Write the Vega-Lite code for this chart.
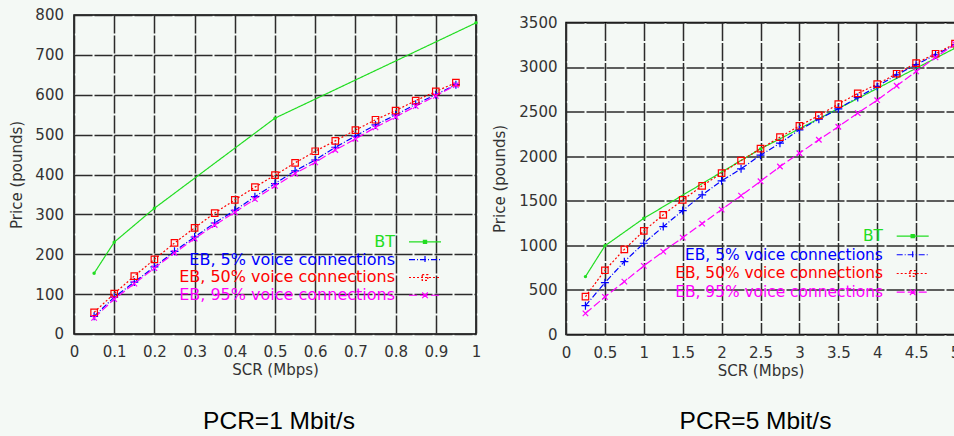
{
  "$schema": "https://vega.github.io/schema/vega-lite/v6.json",
  "padding": {"left": 9, "top": 6.5, "right": 0, "bottom": 0},
  "background": "#f4f9f5",
  "spacing": 10,
  "center": true,
  "resolve": {"scale": {"x": "independent", "y": "independent", "color": "independent", "strokeDash": "independent"}, "legend": {"color": "independent", "strokeDash": "independent"}},
  "datasets": {
    "left": [
      {"scr": 0.05, "price": 152, "series": "BT"},
      {"scr": 0.1, "price": 230, "series": "BT"},
      {"scr": 0.2, "price": 315, "series": "BT"},
      {"scr": 0.5, "price": 541, "series": "BT"},
      {"scr": 1.0, "price": 780, "series": "BT"},
      {"scr": 0.05, "price": 44, "series": "EB, 5% voice connections"},
      {"scr": 0.1, "price": 92, "series": "EB, 5% voice connections"},
      {"scr": 0.15, "price": 130, "series": "EB, 5% voice connections"},
      {"scr": 0.2, "price": 168, "series": "EB, 5% voice connections"},
      {"scr": 0.25, "price": 207, "series": "EB, 5% voice connections"},
      {"scr": 0.3, "price": 243, "series": "EB, 5% voice connections"},
      {"scr": 0.35, "price": 278, "series": "EB, 5% voice connections"},
      {"scr": 0.4, "price": 310, "series": "EB, 5% voice connections"},
      {"scr": 0.45, "price": 344, "series": "EB, 5% voice connections"},
      {"scr": 0.5, "price": 377, "series": "EB, 5% voice connections"},
      {"scr": 0.55, "price": 409, "series": "EB, 5% voice connections"},
      {"scr": 0.6, "price": 436, "series": "EB, 5% voice connections"},
      {"scr": 0.65, "price": 468, "series": "EB, 5% voice connections"},
      {"scr": 0.7, "price": 496, "series": "EB, 5% voice connections"},
      {"scr": 0.75, "price": 524, "series": "EB, 5% voice connections"},
      {"scr": 0.8, "price": 549, "series": "EB, 5% voice connections"},
      {"scr": 0.85, "price": 576, "series": "EB, 5% voice connections"},
      {"scr": 0.9, "price": 600, "series": "EB, 5% voice connections"},
      {"scr": 0.95, "price": 625, "series": "EB, 5% voice connections"},
      {"scr": 0.05, "price": 54, "series": "EB, 50% voice connections"},
      {"scr": 0.1, "price": 101, "series": "EB, 50% voice connections"},
      {"scr": 0.15, "price": 145, "series": "EB, 50% voice connections"},
      {"scr": 0.2, "price": 187, "series": "EB, 50% voice connections"},
      {"scr": 0.25, "price": 228, "series": "EB, 50% voice connections"},
      {"scr": 0.3, "price": 266, "series": "EB, 50% voice connections"},
      {"scr": 0.35, "price": 303, "series": "EB, 50% voice connections"},
      {"scr": 0.4, "price": 336, "series": "EB, 50% voice connections"},
      {"scr": 0.45, "price": 368, "series": "EB, 50% voice connections"},
      {"scr": 0.5, "price": 398, "series": "EB, 50% voice connections"},
      {"scr": 0.55, "price": 429, "series": "EB, 50% voice connections"},
      {"scr": 0.6, "price": 458, "series": "EB, 50% voice connections"},
      {"scr": 0.65, "price": 484, "series": "EB, 50% voice connections"},
      {"scr": 0.7, "price": 511, "series": "EB, 50% voice connections"},
      {"scr": 0.75, "price": 537, "series": "EB, 50% voice connections"},
      {"scr": 0.8, "price": 560, "series": "EB, 50% voice connections"},
      {"scr": 0.85, "price": 585, "series": "EB, 50% voice connections"},
      {"scr": 0.9, "price": 608, "series": "EB, 50% voice connections"},
      {"scr": 0.95, "price": 630, "series": "EB, 50% voice connections"},
      {"scr": 0.05, "price": 40, "series": "EB, 95% voice connections"},
      {"scr": 0.1, "price": 87, "series": "EB, 95% voice connections"},
      {"scr": 0.15, "price": 126, "series": "EB, 95% voice connections"},
      {"scr": 0.2, "price": 165, "series": "EB, 95% voice connections"},
      {"scr": 0.25, "price": 203, "series": "EB, 95% voice connections"},
      {"scr": 0.3, "price": 239, "series": "EB, 95% voice connections"},
      {"scr": 0.35, "price": 273, "series": "EB, 95% voice connections"},
      {"scr": 0.4, "price": 305, "series": "EB, 95% voice connections"},
      {"scr": 0.45, "price": 338, "series": "EB, 95% voice connections"},
      {"scr": 0.5, "price": 371, "series": "EB, 95% voice connections"},
      {"scr": 0.55, "price": 402, "series": "EB, 95% voice connections"},
      {"scr": 0.6, "price": 430, "series": "EB, 95% voice connections"},
      {"scr": 0.65, "price": 461, "series": "EB, 95% voice connections"},
      {"scr": 0.7, "price": 489, "series": "EB, 95% voice connections"},
      {"scr": 0.75, "price": 518, "series": "EB, 95% voice connections"},
      {"scr": 0.8, "price": 544, "series": "EB, 95% voice connections"},
      {"scr": 0.85, "price": 571, "series": "EB, 95% voice connections"},
      {"scr": 0.9, "price": 597, "series": "EB, 95% voice connections"},
      {"scr": 0.95, "price": 624, "series": "EB, 95% voice connections"}
    ],
    "right": [
      {"scr": 0.25, "price": 648, "series": "BT"},
      {"scr": 0.5, "price": 993, "series": "BT"},
      {"scr": 1.0, "price": 1302, "series": "BT"},
      {"scr": 2.5, "price": 2081, "series": "BT"},
      {"scr": 5.0, "price": 3211, "series": "BT"},
      {"scr": 0.25, "price": 322, "series": "EB, 5% voice connections"},
      {"scr": 0.5, "price": 580, "series": "EB, 5% voice connections"},
      {"scr": 0.75, "price": 816, "series": "EB, 5% voice connections"},
      {"scr": 1.0, "price": 1022, "series": "EB, 5% voice connections"},
      {"scr": 1.25, "price": 1209, "series": "EB, 5% voice connections"},
      {"scr": 1.5, "price": 1389, "series": "EB, 5% voice connections"},
      {"scr": 1.75, "price": 1565, "series": "EB, 5% voice connections"},
      {"scr": 2.0, "price": 1722, "series": "EB, 5% voice connections"},
      {"scr": 2.25, "price": 1857, "series": "EB, 5% voice connections"},
      {"scr": 2.5, "price": 2010, "series": "EB, 5% voice connections"},
      {"scr": 2.75, "price": 2145, "series": "EB, 5% voice connections"},
      {"scr": 3.0, "price": 2295, "series": "EB, 5% voice connections"},
      {"scr": 3.25, "price": 2414, "series": "EB, 5% voice connections"},
      {"scr": 3.5, "price": 2530, "series": "EB, 5% voice connections"},
      {"scr": 3.75, "price": 2658, "series": "EB, 5% voice connections"},
      {"scr": 4.0, "price": 2781, "series": "EB, 5% voice connections"},
      {"scr": 4.25, "price": 2912, "series": "EB, 5% voice connections"},
      {"scr": 4.5, "price": 3025, "series": "EB, 5% voice connections"},
      {"scr": 4.75, "price": 3137, "series": "EB, 5% voice connections"},
      {"scr": 5.0, "price": 3249, "series": "EB, 5% voice connections"},
      {"scr": 0.25, "price": 423, "series": "EB, 50% voice connections"},
      {"scr": 0.5, "price": 719, "series": "EB, 50% voice connections"},
      {"scr": 0.75, "price": 954, "series": "EB, 50% voice connections"},
      {"scr": 1.0, "price": 1161, "series": "EB, 50% voice connections"},
      {"scr": 1.25, "price": 1341, "series": "EB, 50% voice connections"},
      {"scr": 1.5, "price": 1509, "series": "EB, 50% voice connections"},
      {"scr": 1.75, "price": 1666, "series": "EB, 50% voice connections"},
      {"scr": 2.0, "price": 1808, "series": "EB, 50% voice connections"},
      {"scr": 2.25, "price": 1950, "series": "EB, 50% voice connections"},
      {"scr": 2.5, "price": 2083, "series": "EB, 50% voice connections"},
      {"scr": 2.75, "price": 2212, "series": "EB, 50% voice connections"},
      {"scr": 3.0, "price": 2340, "series": "EB, 50% voice connections"},
      {"scr": 3.25, "price": 2456, "series": "EB, 50% voice connections"},
      {"scr": 3.5, "price": 2583, "series": "EB, 50% voice connections"},
      {"scr": 3.75, "price": 2703, "series": "EB, 50% voice connections"},
      {"scr": 4.0, "price": 2807, "series": "EB, 50% voice connections"},
      {"scr": 4.25, "price": 2924, "series": "EB, 50% voice connections"},
      {"scr": 4.5, "price": 3043, "series": "EB, 50% voice connections"},
      {"scr": 4.75, "price": 3148, "series": "EB, 50% voice connections"},
      {"scr": 5.0, "price": 3261, "series": "EB, 50% voice connections"},
      {"scr": 0.25, "price": 236, "series": "EB, 95% voice connections"},
      {"scr": 0.5, "price": 420, "series": "EB, 95% voice connections"},
      {"scr": 0.75, "price": 592, "series": "EB, 95% voice connections"},
      {"scr": 1.0, "price": 768, "series": "EB, 95% voice connections"},
      {"scr": 1.25, "price": 929, "series": "EB, 95% voice connections"},
      {"scr": 1.5, "price": 1086, "series": "EB, 95% voice connections"},
      {"scr": 1.75, "price": 1243, "series": "EB, 95% voice connections"},
      {"scr": 2.0, "price": 1400, "series": "EB, 95% voice connections"},
      {"scr": 2.25, "price": 1557, "series": "EB, 95% voice connections"},
      {"scr": 2.5, "price": 1718, "series": "EB, 95% voice connections"},
      {"scr": 2.75, "price": 1883, "series": "EB, 95% voice connections"},
      {"scr": 3.0, "price": 2032, "series": "EB, 95% voice connections"},
      {"scr": 3.25, "price": 2183, "series": "EB, 95% voice connections"},
      {"scr": 3.5, "price": 2329, "series": "EB, 95% voice connections"},
      {"scr": 3.75, "price": 2482, "series": "EB, 95% voice connections"},
      {"scr": 4.0, "price": 2627, "series": "EB, 95% voice connections"},
      {"scr": 4.25, "price": 2789, "series": "EB, 95% voice connections"},
      {"scr": 4.5, "price": 2950, "series": "EB, 95% voice connections"},
      {"scr": 4.75, "price": 3107, "series": "EB, 95% voice connections"},
      {"scr": 5.0, "price": 3256, "series": "EB, 95% voice connections"}
    ]
  },
  "hconcat": [
    {
      "width": 402,
      "height": 319,
      "data": {"name": "left"},
      "title": {"text": "PCR=1 Mbit/s", "orient": "bottom", "anchor": "middle", "offset": 32, "dx": 4, "font": "Liberation Sans", "fontSize": 24.5, "fontWeight": "normal", "color": "#000000", "subtitle": " ", "subtitleFontSize": 4, "subtitlePadding": 3},
      "encoding": {
        "x": {"field": "scr", "type": "quantitative", "scale": {"domain": [0, 1], "nice": false, "zero": false},
          "axis": {"title": "SCR (Mbps)", "values": [0, 0.1, 0.2, 0.3, 0.4, 0.5, 0.6, 0.7, 0.8, 0.9, 1], "format": "~f", "labelPadding": 11, "titlePadding": 3}},
        "y": {"field": "price", "type": "quantitative", "scale": {"domain": [0, 800], "nice": false},
          "axis": {"title": "Price (pounds)", "values": [0, 100, 200, 300, 400, 500, 600, 700, 800], "format": "~f", "labelPadding": 10.5, "titlePadding": 10}}
      },
      "layer": [
        {
          "mark": {"type": "line", "strokeWidth": 1.2},
          "encoding": {
            "color": {"field": "series", "type": "nominal",
              "scale": {"domain": ["BT", "EB, 5% voice connections", "EB, 50% voice connections", "EB, 95% voice connections"], "range": ["#22dd22", "#0000ff", "#ff0000", "#ff00ff"]},
              "legend": {"orient": "none", "legendX": 343, "legendY": 219, "direction": "vertical", "title": null, "labelAlign": "right", "labelOffset": -38, "labelFont": "DejaVu Sans", "labelFontSize": 16, "labelLimit": 0, "rowPadding": 1.8, "symbolSize": 64, "symbolStrokeWidth": 1.2,
                "encode": {
                  "symbols": {"update": {
                    "size": {"value": 64},
                    "shape": {"signal": "datum.value == 'BT' ? 'M-4,0L4,0M-0.4,-0.4L0.4,-0.4L0.4,0.4L-0.4,0.4Z' : datum.value == 'EB, 5% voice connections' ? 'M-4,0L4,0M0,-0.9L0,0.9' : datum.value == 'EB, 50% voice connections' ? 'M-4,0L4,0M-0.7,-0.7L0.7,-0.7L0.7,0.7L-0.7,0.7Z' : 'M-4,0L4,0M-0.7,-0.7L0.7,0.7M-0.7,0.7L0.7,-0.7'"},
                    "fill": {"signal": "datum.value == 'BT' ? '#22dd22' : 'transparent'"},
                    "strokeDash": {"signal": "datum.value == 'BT' ? [1, 0] : datum.value == 'EB, 5% voice connections' ? [6, 2, 1, 2] : datum.value == 'EB, 50% voice connections' ? [2, 2] : [8, 3]"}
                  }},
                  "labels": {"update": {
                    "fill": {"signal": "datum.value == 'BT' ? '#22dd22' : datum.value == 'EB, 5% voice connections' ? '#0000ff' : datum.value == 'EB, 50% voice connections' ? '#ff0000' : '#ff00ff'"}
                  }}
                }
              }
            },
            "strokeDash": {"field": "series", "type": "nominal", "legend": null,
              "scale": {"domain": ["BT", "EB, 5% voice connections", "EB, 50% voice connections", "EB, 95% voice connections"], "range": [[1, 0], [6, 2, 1, 2], [2, 2], [8, 3]]}}
          }
        },
        {"transform": [{"filter": "datum.series == 'BT'"}], "mark": {"type": "point", "shape": "circle", "size": 12, "filled": true, "color": "#22dd22", "opacity": 1}},
        {"transform": [{"filter": "datum.series == 'EB, 5% voice connections'"}], "mark": {"type": "point", "shape": "M-1,0L1,0M0,-1L0,1", "size": 64, "filled": false, "color": "#0000ff", "strokeWidth": 1.2, "opacity": 1}},
        {"transform": [{"filter": "datum.series == 'EB, 50% voice connections'"}], "mark": {"type": "point", "shape": "square", "size": 42, "filled": false, "color": "#ff0000", "strokeWidth": 1.2, "opacity": 1}},
        {"transform": [{"filter": "datum.series == 'EB, 95% voice connections'"}], "mark": {"type": "point", "shape": "M-1,-1L1,1M-1,1L1,-1", "size": 30, "filled": false, "color": "#ff00ff", "strokeWidth": 1.2, "opacity": 1}}
      ]
    },
    {
      "width": 389,
      "height": 312,
      "data": {"name": "right"},
      "title": {"text": "PCR=5 Mbit/s", "orient": "bottom", "anchor": "middle", "offset": 32, "dx": -5, "font": "Liberation Sans", "fontSize": 24.5, "fontWeight": "normal", "color": "#000000"},
      "encoding": {
        "x": {"field": "scr", "type": "quantitative", "scale": {"domain": [0, 5], "nice": false, "zero": false},
          "axis": {"title": "SCR (Mbps)", "values": [0, 0.5, 1, 1.5, 2, 2.5, 3, 3.5, 4, 4.5, 5], "format": "~f", "labelPadding": 11, "titlePadding": 3}},
        "y": {"field": "price", "type": "quantitative", "scale": {"domain": [0, 3500], "nice": false},
          "axis": {"title": "Price (pounds)", "values": [0, 500, 1000, 1500, 2000, 2500, 3000, 3500], "format": "~f", "labelPadding": 9, "titlePadding": 11}}
      },
      "layer": [
        {
          "mark": {"type": "line", "strokeWidth": 1.2},
          "encoding": {
            "color": {"field": "series", "type": "nominal",
              "scale": {"domain": ["BT", "EB, 5% voice connections", "EB, 50% voice connections", "EB, 95% voice connections"], "range": ["#22dd22", "#0000ff", "#ff0000", "#ff00ff"]},
              "legend": {"orient": "none", "legendX": 339, "legendY": 206, "direction": "vertical", "title": null, "labelAlign": "right", "labelOffset": -37.5, "labelFont": "DejaVu Sans", "labelFontSize": 15.4, "labelLimit": 0, "rowPadding": 1.7, "symbolSize": 64, "symbolStrokeWidth": 1.2,
                "encode": {
                  "symbols": {"update": {
                    "size": {"value": 64},
                    "shape": {"signal": "datum.value == 'BT' ? 'M-4,0L4,0M-0.4,-0.4L0.4,-0.4L0.4,0.4L-0.4,0.4Z' : datum.value == 'EB, 5% voice connections' ? 'M-4,0L4,0M0,-0.9L0,0.9' : datum.value == 'EB, 50% voice connections' ? 'M-4,0L4,0M-0.7,-0.7L0.7,-0.7L0.7,0.7L-0.7,0.7Z' : 'M-4,0L4,0M-0.7,-0.7L0.7,0.7M-0.7,0.7L0.7,-0.7'"},
                    "fill": {"signal": "datum.value == 'BT' ? '#22dd22' : 'transparent'"},
                    "strokeDash": {"signal": "datum.value == 'BT' ? [1, 0] : datum.value == 'EB, 5% voice connections' ? [6, 2, 1, 2] : datum.value == 'EB, 50% voice connections' ? [2, 2] : [8, 3]"}
                  }},
                  "labels": {"update": {
                    "fill": {"signal": "datum.value == 'BT' ? '#22dd22' : datum.value == 'EB, 5% voice connections' ? '#0000ff' : datum.value == 'EB, 50% voice connections' ? '#ff0000' : '#ff00ff'"}
                  }}
                }
              }
            },
            "strokeDash": {"field": "series", "type": "nominal", "legend": null,
              "scale": {"domain": ["BT", "EB, 5% voice connections", "EB, 50% voice connections", "EB, 95% voice connections"], "range": [[1, 0], [6, 2, 1, 2], [2, 2], [8, 3]]}}
          }
        },
        {"transform": [{"filter": "datum.series == 'BT'"}], "mark": {"type": "point", "shape": "circle", "size": 12, "filled": true, "color": "#22dd22", "opacity": 1}},
        {"transform": [{"filter": "datum.series == 'EB, 5% voice connections'"}], "mark": {"type": "point", "shape": "M-1,0L1,0M0,-1L0,1", "size": 64, "filled": false, "color": "#0000ff", "strokeWidth": 1.2, "opacity": 1}},
        {"transform": [{"filter": "datum.series == 'EB, 50% voice connections'"}], "mark": {"type": "point", "shape": "square", "size": 42, "filled": false, "color": "#ff0000", "strokeWidth": 1.2, "opacity": 1}},
        {"transform": [{"filter": "datum.series == 'EB, 95% voice connections'"}], "mark": {"type": "point", "shape": "M-1,-1L1,1M-1,1L1,-1", "size": 30, "filled": false, "color": "#ff00ff", "strokeWidth": 1.2, "opacity": 1}}
      ]
    }
  ],
  "config": {
    "view": {"fill": "#f4f9f5", "stroke": "#000000", "strokeWidth": 1.5},
    "axis": {"grid": true, "gridColor": "#2b2b2b", "gridWidth": 1.5, "gridDash": [18, 2], "gridOpacity": 1, "domain": false, "ticks": false, "labelFont": "DejaVu Sans", "labelFontSize": 15, "labelColor": "#333333", "labelFlush": false, "labelOverlap": false, "labelBound": false, "titleFont": "DejaVu Sans", "titleFontSize": 15, "titleFontWeight": "normal", "titleColor": "#333333"}
  }
}
